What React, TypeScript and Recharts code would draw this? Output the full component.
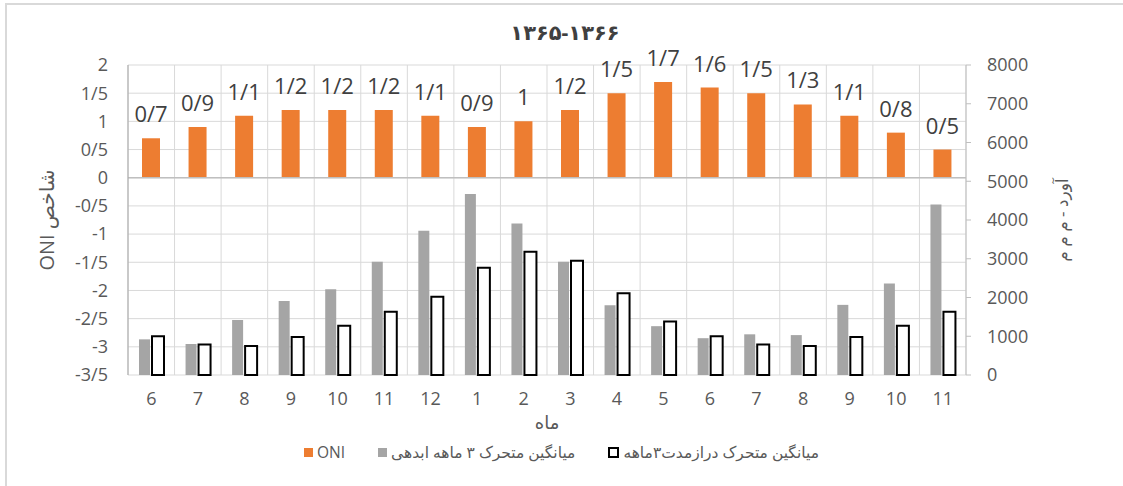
import { BarChart, Bar, XAxis, YAxis, CartesianGrid, ReferenceLine, LabelList, Label } from "recharts"

const months = ["6", "7", "8", "9", "10", "11", "12", "1", "2", "3", "4", "5", "6", "7", "8", "9", "10", "11"]
const oni = [0.7, 0.9, 1.1, 1.2, 1.2, 1.2, 1.1, 0.9, 1.0, 1.2, 1.5, 1.7, 1.6, 1.5, 1.3, 1.1, 0.8, 0.5]
const movingAvg = [920, 800, 1420, 1910, 2210, 2920, 3720, 4670, 3910, 2920, 1800, 1260, 950, 1050, 1030, 1810, 2360, 4400]
const longTermAvg = [1000, 790, 750, 980, 1270, 1630, 2020, 2770, 3180, 2950, 2110, 1380, 1000, 790, 750, 980, 1270, 1630]

const leftTicks = [-3.5, -3, -2.5, -2, -1.5, -1, -0.5, 0, 0.5, 1, 1.5, 2]
const rightTicks = [0, 1000, 2000, 3000, 4000, 5000, 6000, 7000, 8000]

const TITLE = "۱۳۶۵-۱۳۶۶"
const NAMES = { oni: "ONI", moving: "میانگین متحرک ۳ ماهه ابدهی", longTerm: "میانگین متحرک درازمدت۳ماهه" }

const data = months.map((m, i) => ({ month: m, oni: oni[i], moving: movingAvg[i], longTerm: longTermAvg[i] }))

const FONT = "'Open Sans', 'DejaVu Sans', sans-serif"
const TEXT = "#595959"
const GRID = "#d9d9d9"

// Persian charts use "/" as the decimal mark
const persianDecimal = (v: number | string) => String(v).replace(".", "/")

export default function App() {
  return (
    <div style={{ position: "fixed", left: 0, top: 0, width: 1123, height: 486, overflow: "hidden", background: "#fff", fontFamily: FONT }}>
      <div style={{ position: "absolute", left: 5, top: 3, width: 1200, height: 600, border: "2px solid #d9d9d9" }} />
      <div style={{ position: "absolute", left: 0, top: 18, width: 1130, textAlign: "center", fontSize: 21, fontWeight: 700, color: "#404040" }}>
        {TITLE}
      </div>
      <BarChart
        width={1123}
        height={486}
        data={data}
        barGap={2}
        margin={{ top: 65, right: 47, bottom: 51, left: 28 }}
        style={{ position: "absolute", left: 0, top: 0 }}
      >
        <CartesianGrid
          xAxisId="a"
          yAxisId="left"
          stroke={GRID}
          verticalCoordinatesGenerator={({ offset }: any) =>
            Array.from({ length: months.length + 1 }, (_, i) => offset.left + (offset.width * i) / months.length)
          }
        />
        <XAxis
          xAxisId="a"
          dataKey="month"
          interval={0}
          height={60}
          tickLine={false}
          axisLine={false}
          tickMargin={11}
          tick={{ fill: TEXT, fontSize: 18, fontFamily: FONT }}
        >
          <Label value="ماه" position="insideBottom" offset={6} fill={TEXT} fontSize={18} fontFamily={FONT} />
        </XAxis>
        <XAxis xAxisId="b" dataKey="month" hide />
        <YAxis
          yAxisId="left"
          domain={[-3.5, 2]}
          ticks={leftTicks}
          interval={0}
          width={100}
          tickLine={false}
          axisLine={{ stroke: "#a6a6a6" }}
          tickMargin={14}
          tickFormatter={persianDecimal}
          tick={{ fill: TEXT, fontSize: 18, fontFamily: FONT }}
        >
          <Label value="ONI شاخص" angle={-90} position="insideLeft" offset={19} fill={TEXT} fontSize={20} fontFamily={FONT} style={{ textAnchor: "middle" }} />
        </YAxis>
        <YAxis
          yAxisId="right"
          orientation="right"
          domain={[0, 8000]}
          ticks={rightTicks}
          interval={0}
          width={110}
          tickSize={5}
          tickMargin={16}
          tickLine={{ stroke: "#bfbfbf" }}
          axisLine={{ stroke: "#bfbfbf" }}
          tick={{ fill: TEXT, fontSize: 18, fontFamily: FONT }}
        >
          <Label value="آورد - م م م" angle={-90} position="insideRight" offset={14} fill={TEXT} fontSize={17} fontFamily={FONT} style={{ textAnchor: "middle" }} />
        </YAxis>
        <ReferenceLine y={0} yAxisId="left" xAxisId="a" stroke="#bfbfbf" strokeWidth={1.5} />
        <Bar dataKey="oni" name={NAMES.oni} xAxisId="a" yAxisId="left" fill="#ED7D31" barSize={18} isAnimationActive={false}>
          <LabelList
            dataKey="oni"
            position="top"
            offset={16}
            formatter={persianDecimal}
            fill="#404040"
            fontSize={22}
            fontFamily={FONT}
          />
        </Bar>
        <Bar dataKey="moving" name={NAMES.moving} xAxisId="b" yAxisId="right" fill="#A5A5A5" barSize={11} isAnimationActive={false} />
        <Bar
          dataKey="longTerm"
          name={NAMES.longTerm}
          xAxisId="b"
          yAxisId="right"
          fill="#ffffff"
          stroke="#000000"
          strokeWidth={2}
          barSize={12}
          isAnimationActive={false}
        />
      </BarChart>
      <div
        style={{
          position: "absolute",
          left: 0,
          top: 441,
          width: 1123,
          display: "flex",
          justifyContent: "center",
          alignItems: "center",
          gap: 33,
          fontSize: 15.5,
          color: TEXT,
        }}
      >
        <LegendItem color="#ED7D31" label={NAMES.oni} />
        <LegendItem color="#A5A5A5" label={NAMES.moving} />
        <LegendItem color="#ffffff" border="#000000" label={NAMES.longTerm} />
      </div>
    </div>
  )
}

function LegendItem({ color, label, border }: { color: string; label: string; border?: string }) {
  return (
    <div style={{ display: "flex", alignItems: "center", gap: 4 }}>
      <span
        style={{
          display: "inline-block",
          width: border ? 7 : 9,
          height: border ? 7 : 9,
          background: color,
          border: border ? `2px solid ${border}` : undefined,
        }}
      />
      <span>{label}</span>
    </div>
  )
}
